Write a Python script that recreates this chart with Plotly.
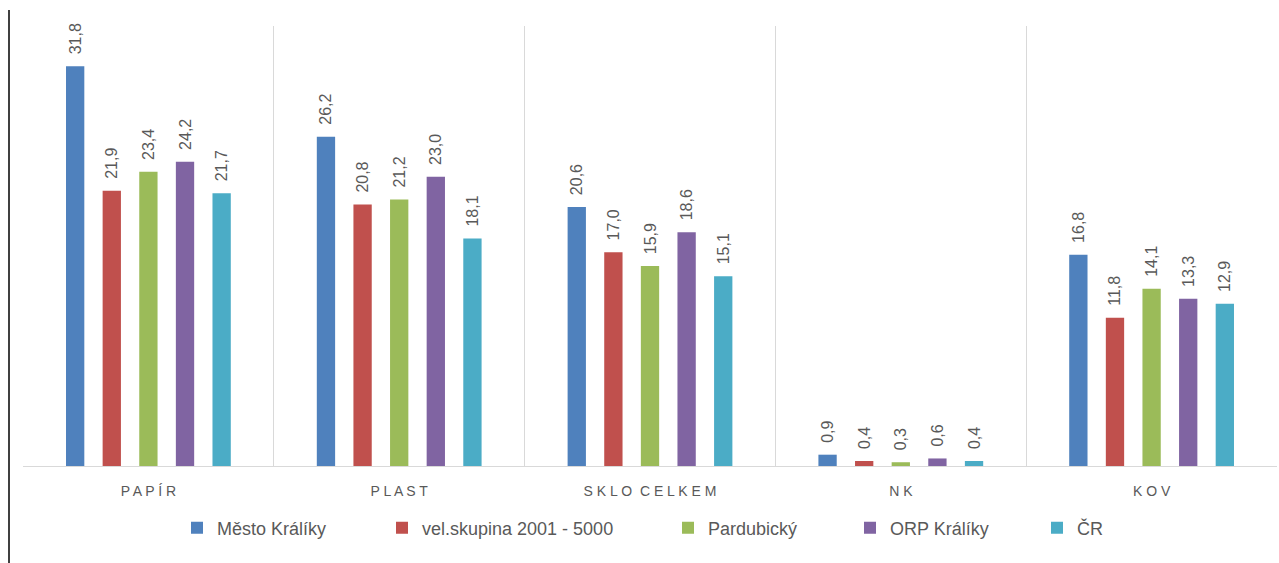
import plotly.graph_objects as go

categories = ["P A P Í R", "P L A S T", "S K L O \u00a0C E L K E M", "N K", "K O V"]
series_names = ["Město Králíky", "vel.skupina 2001 - 5000", "Pardubický", "ORP Králíky", "ČR"]
mesto = [31.8, 26.2, 20.6, 0.9, 16.8]
velskupina = [21.9, 20.8, 17.0, 0.4, 11.8]
pardubicky = [23.4, 21.2, 15.9, 0.3, 14.1]
orp = [24.2, 23.0, 18.6, 0.6, 13.3]
cr = [21.7, 18.1, 15.1, 0.4, 12.9]
series_values = [mesto, velskupina, pardubicky, orp, cr]
colors = ["#4F81BD", "#C0504D", "#9BBB59", "#8064A2", "#4BACC6"]

W, H = 1279, 563
ML, MR, MT, MB = 23, 2, 26, 97
PW = W - ML - MR
PH = H - MT - MB

legend_px = [177, 382, 668, 850, 1037]
legend_keys = ["legend", "legend2", "legend3", "legend4", "legend5"]

font_family = "Liberation Sans, Arial, sans-serif"
gray = "#595959"

fig = go.Figure()
xpos = list(range(len(categories)))
for i, (name, vals) in enumerate(zip(series_names, series_values)):
    fig.add_trace(go.Bar(
        x=xpos, y=vals, name=name,
        marker=dict(color=colors[i], line=dict(width=0)),
        text=["\u00a0\u00a0" + f"{v:.1f}".replace(".", ",") for v in vals],
        textposition="outside", textangle=-90, constraintext="none",
        cliponaxis=False,
        textfont=dict(size=16, color=gray, family=font_family),
        legend=legend_keys[i],
        showlegend=True,
        hoverinfo="skip",
    ))

layout = dict(
    width=W, height=H,
    margin=dict(l=ML, r=MR, t=MT, b=MB),
    paper_bgcolor="white", plot_bgcolor="white",
    showlegend=True,
    barmode="group", bargap=0.27, bargroupgap=0.5,
    font=dict(family=font_family, color=gray),
    xaxis=dict(
        range=[-0.5, len(categories) - 0.5],
        tickmode="array", tickvals=xpos, ticktext=categories,
        showgrid=False, zeroline=False,
        showline=True, linecolor="#d9d9d9", linewidth=1,
        ticks="", ticklabelstandoff=12,
        tickfont=dict(size=14, color=gray, family=font_family),
        minor=dict(showgrid=True, tickmode="linear", tick0=-0.5, dtick=1,
                   gridcolor="#d9d9d9", gridwidth=1, ticks=""),
        fixedrange=True,
    ),
    yaxis=dict(
        range=[0, 35], showgrid=False, zeroline=False,
        showticklabels=False, showline=False, ticks="", fixedrange=True,
    ),
    shapes=[dict(
        type="line", xref="paper", yref="paper",
        x0=(9 - ML) / PW, x1=(9 - ML) / PW,
        y0=((H - MB) - H) / PH, y1=((H - MB) - 10) / PH,
        line=dict(color="black", width=1.5),
    )],
)
for i, key in enumerate(legend_keys):
    layout[key] = dict(
        visible=True,
        x=(legend_px[i] - ML) / PW, xanchor="left",
        y=-(528 - (H - MB)) / PH, yanchor="middle",
        orientation="h", bgcolor="rgba(0,0,0,0)",
        font=dict(size=18, color=gray, family=font_family),
    )
fig.update_layout(**layout)
fig.write_html(
    "out.html",
    config={"displayModeBar": False, "responsive": False},
    post_script="document.body.style.margin='0';document.body.style.overflow='hidden';",
)
